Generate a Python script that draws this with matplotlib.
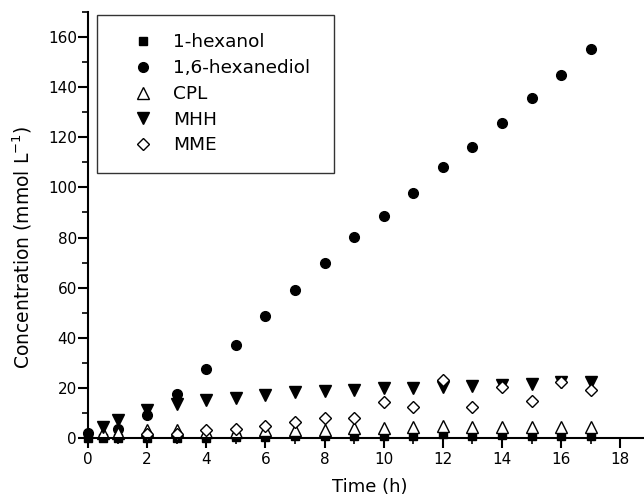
import matplotlib
matplotlib.use("Agg")
import matplotlib.pyplot as plt
from matplotlib.ticker import MultipleLocator

plt.rcParams['font.family'] = ['DejaVu Sans']

# sampling times (h)
t_hexanol = [0, 0.5, 1, 2, 3, 4, 5, 6, 7, 8, 9, 10, 11, 12, 13, 14, 15, 16, 17]
hexanol = [0, 0, 0, 0, 0, 0, 0.3, 0.5, 0.6, 0.8, 0.8, 0.8, 0.9, 1.5, 0.9, 1.0, 0.8, 0.8, 0.8]

t_diol = [0, 1, 2, 3, 4, 5, 6, 7, 8, 9, 10, 11, 12, 13, 14, 15, 16, 17]
diol = [2, 3.5, 9.2, 17.6, 27.5, 37, 48.7, 59, 70, 80.1, 88.5, 97.9, 108.3, 116.1, 125.7, 135.5, 144.7, 155.2]

t_cpl = [0.5, 1, 2, 3, 4, 5, 6, 7, 8, 9, 10, 11, 12, 13, 14, 15, 16, 17]
cpl = [1.8, 2, 3.0, 3.0, 2.5, 2.5, 3, 3, 3.2, 3.9, 3.9, 4.5, 4.6, 4.5, 4.5, 4.5, 4.5, 4.5]

t_mhh = [0.5, 1, 2, 3, 4, 5, 6, 7, 8, 9, 10, 11, 12, 13, 14, 15, 16, 17]
mhh = [4.3, 7.2, 11, 13.4, 15, 16, 17.3, 18.5, 18.8, 19.2, 19.9, 19.9, 20.5, 20.8, 21.2, 21.6, 22.3, 22.5]

t_mme = [2, 3, 4, 5, 6, 7, 8, 9, 10, 11, 12, 13, 14, 15, 16, 17]
mme = [1.5, 1.5, 3, 3.5, 4.7, 6.2, 7.9, 7.9, 14.5, 12.5, 23.2, 12.3, 20.5, 14.8, 22.5, 19.0]

fig = plt.figure(figsize=(6.44, 5.0), dpi=100)
ax = fig.add_axes([0.1366, 0.124, 0.8634, 0.852])

ms = 7
ax.plot(t_hexanol, hexanol, ls='none', marker='s', ms=ms - 1, color='black', clip_on=False, label='1-hexanol')
ax.plot(t_diol, diol, ls='none', marker='o', ms=ms, color='black', clip_on=False, label='1,6-hexanediol')
ax.plot(t_cpl, cpl, ls='none', marker='^', ms=ms + 1, mfc='white', mec='black', mew=1.0, clip_on=False, label='CPL')
ax.plot(t_mhh, mhh, ls='none', marker='v', ms=ms + 1, color='black', clip_on=False, label='MHH')
ax.plot(t_mme, mme, ls='none', marker='D', ms=ms - 0.5, mfc='white', mec='black', mew=1.0, clip_on=False, label='MME')

ax.set_xlim(0, 18.8)
ax.set_ylim(0, 170)
ax.xaxis.set_major_locator(MultipleLocator(2))
ax.xaxis.set_minor_locator(MultipleLocator(1))
ax.yaxis.set_major_locator(MultipleLocator(20))
ax.yaxis.set_minor_locator(MultipleLocator(10))

for side in ('top', 'right'):
    ax.spines[side].set_visible(False)
for side in ('left', 'bottom'):
    ax.spines[side].set_linewidth(1.5)

ax.tick_params(which='major', direction='out', length=7, width=1.5, labelsize=11)
ax.tick_params(axis='y', which='major', pad=1)
ax.tick_params(axis='x', which='major', pad=3)
ax.tick_params(which='minor', direction='out', length=4, width=1.2)

ax.set_xlabel('Time (h)', fontsize=13)
ax.set_ylabel('Concentration (mmol L$^{\\mathregular{-1}}$)', fontsize=13.5)
ax.xaxis.set_label_coords(0.507, -0.094)
ax.yaxis.set_label_coords(-0.097, 0.448)

leg = ax.legend(loc='upper left', bbox_to_anchor=(0.0162, 0.2, 0.4262, 0.793), mode='expand',
                frameon=True, fancybox=False, edgecolor='black', fontsize=13.3,
                handletextpad=0.1, handlelength=3.0, labelspacing=0.42,
                borderpad=1.0, borderaxespad=0.0)
leg.get_frame().set_linewidth(1.0)

fig.savefig('out.png', dpi=100)
